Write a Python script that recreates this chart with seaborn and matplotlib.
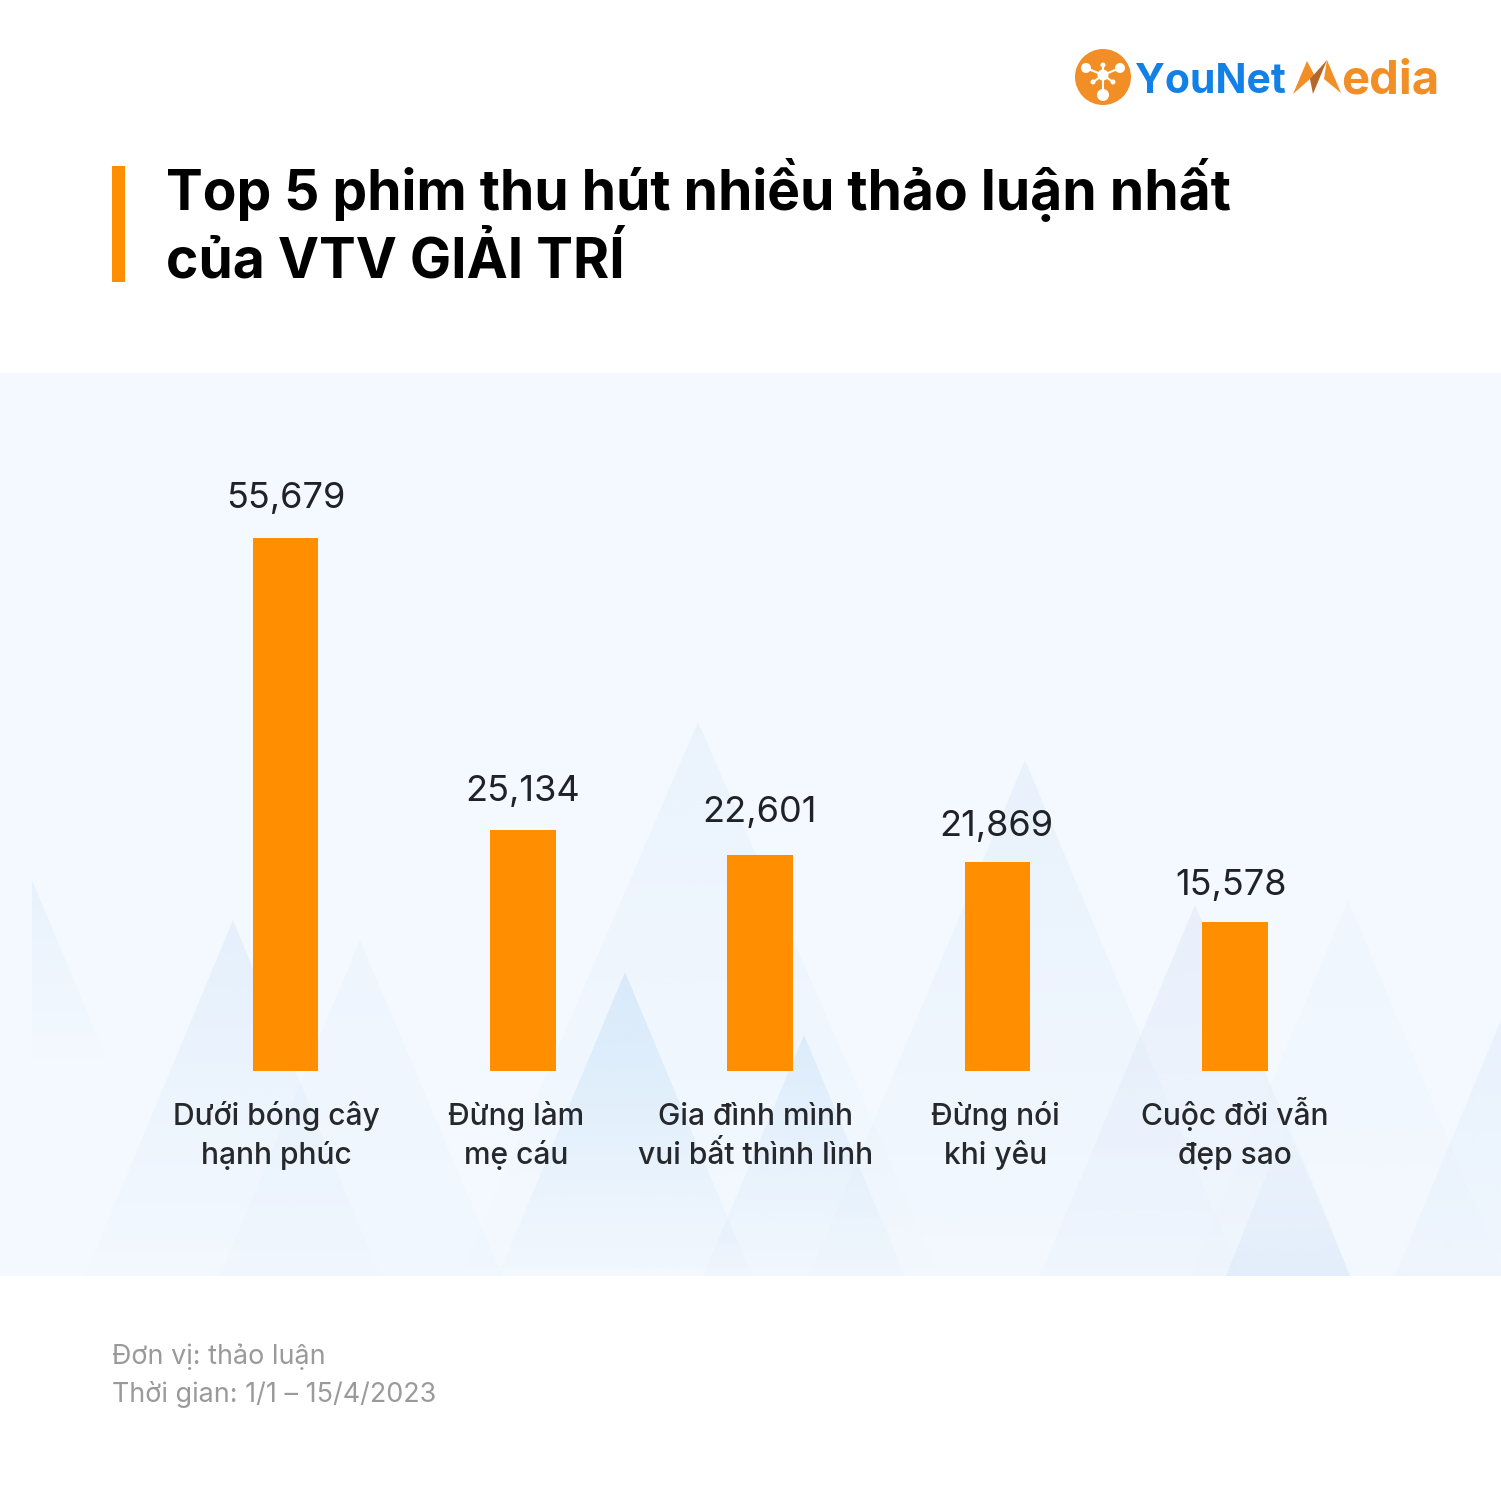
import matplotlib
matplotlib.use("Agg")
import matplotlib.pyplot as plt
import seaborn as sns
import pandas as pd
import numpy as np
from matplotlib.patches import Rectangle, Polygon, Circle
from matplotlib.colors import to_rgb

sns.set_theme(style="white")
plt.rcParams['font.family'] = ['Inter', 'Noto Sans', 'DejaVu Sans']

films = ["Dưới bóng cây\nhạnh phúc", "Đừng làm\nmẹ cáu", "Gia đình mình\nvui bất thình lình", "Đừng nói\nkhi yêu", "Cuộc đời vẫn\nđẹp sao"]
discussions = [55679, 25134, 22601, 21869, 15578]
value_labels = ["55,679", "25,134", "22,601", "21,869", "15,578"]
title_lines = ["Top 5 phim thu hút nhiều thảo luận nhất", "của VTV GIẢI TRÍ"]
notes = ["Đơn vị: thảo luận", "Thời gian: 1/1 – 15/4/2023"]
ORANGE = "#FF8F00"

W = 1501
fig = plt.figure(figsize=(W/100, W/100), dpi=100, facecolor="white")
bg = fig.add_axes([0, 0, 1, 1], zorder=0)
bg.set_xlim(0, W); bg.set_ylim(W, 0); bg.axis("off")
bg.add_patch(Rectangle((0, 373), W, 903, color="#F4F9FF", lw=0))

def gradient_shape(points, color, a_top, a_bot):
    xs = [p[0] for p in points]; ys = [p[1] for p in points]
    img = np.zeros((256, 1, 4))
    img[..., :3] = to_rgb(color)
    img[..., 3] = np.linspace(a_top, a_bot, 256)[:, None]
    im = bg.imshow(img, extent=(min(xs), max(xs), max(ys), min(ys)), aspect="auto", interpolation="bilinear", zorder=1)
    im.set_clip_path(Polygon(points, closed=True, transform=bg.transData))

B = 1276
for pts, c, a0, a1 in [
    ([(85, B), (233, 920), (380, B)], "#CFE3F8", .40, .02),
    ([(220, B), (360, 940), (502, B)], "#CFE3F8", .16, .06),
    ([(498, B), (625, 972), (752, B)], "#BFDDF8", .50, .03),
    ([(460, B), (698, 722), (940, B)], "#D5E6F8", .30, .0),
    ([(809, B), (1025, 760), (1241, B)], "#D5E6F8", .36, .03),
    ([(703, B), (804, 1035), (905, B)], "#BFDDF8", .38, .04),
    ([(1040, B), (1195, 905), (1350, B)], "#D5E0F6", .38, .08),
    ([(1191, B), (1348, 900), (1505, B)], "#D5E6F8", .14, .02),
    ([(32, 880), (32, 1060), (107, 1060)], "#D5E6F8", .38, .0),
    ([(1395, B), (1501, 1020), (1501, B)], "#CFE3F8", .30, .12),
    ([(1226, B), (1288, 1120), (1350, B)], "#CFE3F8", .0, .40),
]:
    gradient_shape(pts, c, a0, a1)
bg.set_xlim(0, W); bg.set_ylim(W, 0)

bg.add_patch(Rectangle((112, 166), 13, 116, color=ORANGE, lw=0))
for i, t in enumerate(title_lines):
    bg.text(166, 210 + i*68, t, fontsize=39.7, fontweight="bold", color="black", va="baseline", ha="left")
for i, t in enumerate(notes):
    bg.text(112, 1357 + i*37, t, fontsize=19.4, color="#9A9A9A", va="center", ha="left")

# logo
LOGO_O = "#F28E26"
bg.add_patch(Circle((1103, 77), 28, color=LOGO_O, lw=0))
cx, cy = 1103, 77
for dx, dy, r in [(0, -2, 5.5), (-17, -9, 5), (17, -9, 5), (0, -12, 2.5), (-10, 5, 2.5), (10, 5, 2.5), (0, 18, 6)]:
    bg.add_patch(Circle((cx+dx, cy+dy), r, color="white", lw=0))
    bg.plot([cx, cx+dx], [cy-2, cy+dy], color="white", lw=1.5, solid_capstyle="round")
bg.text(1135, 93, "YouNet", fontsize=29.4, fontweight="bold", color="#1380E6", va="baseline", ha="left")
bg.add_patch(Polygon([(1293, 94), (1307, 61), (1317, 80), (1310, 79)], closed=True, color=LOGO_O, lw=0))
bg.add_patch(Polygon([(1310, 79), (1327, 60), (1313, 94)], closed=True, color="#B5672A", lw=0))
bg.add_patch(Polygon([(1327, 60), (1341, 93), (1324, 79)], closed=True, color=LOGO_O, lw=0))
bg.text(1341, 93, "edia", fontsize=34, fontweight="bold", color=LOGO_O, va="baseline", ha="left")

# Chart axes: y=0 at pixel 1071, 55679 at pixel 538
ax = fig.add_axes([0, 1-1071/W, 1, (1071-420)/W], zorder=2)
ax.patch.set_alpha(0)
df = pd.DataFrame({"film": films, "discussions": discussions})
sns.barplot(data=df, x="film", y="discussions", color=ORANGE, saturation=1, width=65.6/237.3, linewidth=0, edgecolor="none", ax=ax)
ax.set_xlim((0-285.6/237.3), (W-285.6)/237.3)
ax.set_ylim(0, 55679*(1071-420)/(1071-538))
for s in ax.spines.values():
    s.set_visible(False)
ax.set(xlabel="", ylabel="")
ax.set_yticks([])
ax.set_xticks(range(5))
ax.set_xticklabels([])
ax.tick_params(length=0)

PT = 0.72
value_dx = [0, 0, -1, -1, -3.5]
value_dy = [39.5, 39, 42.5, 35.5, 36.5]
label_dx = [-9, -7, -5, -2, 0]
for i, (v, l) in enumerate(zip(discussions, value_labels)):
    ax.annotate(l, (i, v), xytext=(value_dx[i]*PT, value_dy[i]*PT), textcoords="offset points", ha="center", va="center", fontsize=26, color="#1F2328")
for i, l in enumerate(films):
    for j, part in enumerate(l.split("\n")):
        ax.annotate(part, (i, 0), xytext=(label_dx[i]*PT, (-54 - j*39)*PT), textcoords="offset points", ha="center", va="baseline", fontsize=21.6, fontweight="medium", color="#26282C")
fig.savefig("out.png", dpi=100)
